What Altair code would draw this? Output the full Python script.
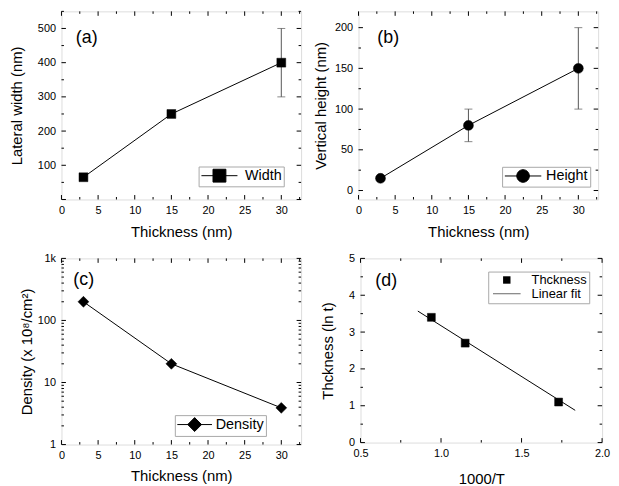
import altair as alt
import pandas as pd

FONT = "Liberation Sans"
TICK_FS = 11
TITLE_FS = 15
MAJOR_LEN = 4.5
MINOR_LEN = 2.5

# ---------------- data ----------------
thick = [3, 15, 30]

width_nm = [65, 250, 400]
width_err_x = [30]
width_err_lo = [300]
width_err_hi = [500]

height_nm = [15, 80, 150]
height_err_x = [15, 30]
height_err_lo = [60, 100]
height_err_hi = [100, 200]

density = [200, 20, 3.9]

inv_T = [0.94, 1.15, 1.73]
ln_t = [3.4, 2.7, 1.1]
fit_invT = [0.856, 1.833]
fit_lnt = [3.57, 0.875]

# tick positions / labels
thick_major = [0, 5, 10, 15, 20, 25, 30]
thick_minor = [2.5, 7.5, 12.5, 17.5, 22.5, 27.5, 32.5]
thick_labels = [0, 5, 10, 15, 20, 25, 30]

wid_major = [0, 100, 200, 300, 400, 500]
wid_minor = [50, 150, 250, 350, 450, 550]
wid_labels = [100, 200, 300, 400, 500]

hgt_major = [0, 50, 100, 150, 200]
hgt_minor = [25, 75, 125, 175]
hgt_labels = [0, 50, 100, 150, 200]

den_major = [1, 10, 100, 1000]
den_minor = [2, 3, 4, 5, 6, 7, 8, 9, 20, 30, 40, 50, 60, 70, 80, 90,
             200, 300, 400, 500, 600, 700, 800, 900]
den_labels = [1, 10, 100, 1000]

invT_major = [0.5, 1.0, 1.5, 2.0]
invT_minor = [0.75, 1.25, 1.75]
lnt_major = [0, 1, 2, 3, 4, 5]
lnt_minor = [0.5, 1.5, 2.5, 3.5, 4.5]


# ---------------- helpers ----------------
def x_axis(values, title, title_y, fmt=None):
    kw = dict(orient="bottom", values=values, ticks=False, tickSize=0, domain=False, grid=False,
              labelFont=FONT, labelFontSize=TICK_FS, labelColor="black", labelPadding=5,
              labelFlush=False, labelOverlap=False,
              title=title, titleFont=FONT, titleFontSize=TITLE_FS, titleFontWeight="normal",
              titleColor="black", titleY=title_y, titleBaseline="middle",
              minExtent=20, maxExtent=20)
    if fmt:
        kw["format"] = fmt
    return alt.Axis(**kw)


def y_axis(values, title, title_x, ext, fmt=None, expr=None):
    kw = dict(orient="left", values=values, ticks=False, tickSize=0, domain=False, grid=False,
              labelFont=FONT, labelFontSize=TICK_FS, labelColor="black", labelPadding=6,
              labelOverlap=False,
              title=title, titleFont=FONT, titleFontSize=TITLE_FS, titleFontWeight="normal",
              titleColor="black", titleX=-title_x, titleBaseline="middle",
              minExtent=ext, maxExtent=ext)
    if fmt:
        kw["format"] = fmt
    if expr:
        kw["labelExpr"] = expr
    return alt.Axis(**kw)


def legend(x, y, path, size, so, lo, fs):
    kw = dict(orient="none", legendX=x, legendY=y, title=None,
              symbolSize=size, symbolStrokeColor="black",
              symbolStrokeWidth=1, symbolOffset=so, labelOffset=lo,
              labelFont=FONT, labelFontSize=fs, labelColor="black",
              strokeColor="#a8a8a8", fillColor="white", padding=2, rowPadding=0)
    if path:
        kw["symbolType"] = path
    return alt.Legend(**kw)


def inward_ticks(xs, ys, w, h, xmaj, xmin, ymaj, ymin):
    """Origin-style ticks pointing into the frame on all four sides."""
    out = []
    for vals, L in ((xmaj, MAJOR_LEN), (xmin, MINOR_LEN)):
        base = alt.Chart(pd.DataFrame({"v": vals})).mark_rule(color="black", strokeWidth=1)
        xe = alt.X("v:Q", scale=xs, axis=None)
        out.append(base.encode(x=xe, y=alt.value(h), y2=alt.value(h - L)))
        out.append(base.encode(x=xe, y=alt.value(0), y2=alt.value(L)))
    for vals, L in ((ymaj, MAJOR_LEN), (ymin, MINOR_LEN)):
        base = alt.Chart(pd.DataFrame({"v": vals})).mark_rule(color="black", strokeWidth=1)
        ye = alt.Y("v:Q", scale=ys, axis=None)
        out.append(base.encode(y=ye, x=alt.value(0), x2=alt.value(L)))
        out.append(base.encode(y=ye, x=alt.value(w), x2=alt.value(w - L)))
    return out


def panel(w, h, xs, ys, line_df, xa, ya, xmaj, xmin, ymaj, ymin, extra):
    def X(ax):
        return alt.X("x:Q", scale=xs, axis=ax)

    def Y(ax):
        return alt.Y("y:Q", scale=ys, axis=ax)

    line = alt.Chart(line_df).mark_line(color="black", strokeWidth=1).encode(X(xa), Y(ya))
    layers = [line] + inward_ticks(xs, ys, w, h, xmaj, xmin, ymaj, ymin) + [e(X, Y) for e in extra]
    return alt.layer(*layers).resolve_axis(x="independent", y="independent").properties(
        width=w, height=h)


def errbars(df, ys):
    def f(X, Y):
        return alt.Chart(df).mark_errorbar(ticks={"size": 8}, color="#555555", thickness=1).encode(
            x=alt.X("x:Q", scale=xs_thick, axis=None),
            y=alt.Y("lo:Q", scale=ys, axis=None),
            y2="hi:Q")
    return f


def points(df, mark, size, leg, name):
    def f(X, Y):
        return alt.Chart(df).mark_point(shape=mark, filled=True, size=size, opacity=1,
                                        stroke="black", strokeWidth=0.5).encode(
            X(None), Y(None),
            color=alt.Color("series:N", scale=alt.Scale(domain=[name], range=["black"]),
                            legend=leg))
    return f


def label(txt, px, py):
    def f(X, Y):
        return alt.Chart(pd.DataFrame({"t": [txt]})).mark_text(
            font=FONT, fontSize=18, color="black", align="center", baseline="middle").encode(
            x=alt.value(px), y=alt.value(py), text="t:N")
    return f


xs_thick = alt.Scale(domain=[0, 32.7], nice=False, zero=False)

# ---------------- panel (a) ----------------
df_a = pd.DataFrame({"x": thick, "y": width_nm, "series": "Width"})
err_a = pd.DataFrame({"x": width_err_x, "lo": width_err_lo, "hi": width_err_hi})
ys_a = alt.Scale(domain=[0, 550], nice=False, zero=False)
pa = panel(242, 190, xs_thick, ys_a, df_a,
           x_axis(thick_labels, "Thickness (nm)", 32),
           y_axis(wid_labels, "Lateral width (nm)", 45.5, 53.5),
           thick_major, thick_minor, wid_major, wid_minor,
           [errbars(err_a, ys_a),
            points(df_a, "square", 80,
                   legend(138.5, 156.7, "M-2.8,0H2.8M-1,-1H1V1H-1Z", 169, 11.8, 18.5, 14.5),
                   "Width"),
            label("(a)", 25.5, 26.7)])

# ---------------- panel (b) ----------------
df_b = pd.DataFrame({"x": thick, "y": height_nm, "series": "Height"})
err_b = pd.DataFrame({"x": height_err_x, "lo": height_err_lo, "hi": height_err_hi})
ys_b = alt.Scale(domain=[-11, 220], nice=False, zero=False)
pb = panel(242, 190, xs_thick, ys_b, df_b,
           x_axis(thick_labels, "Thickness (nm)", 32),
           y_axis(hgt_labels, "Vertical height (nm)", 38, 46.5),
           thick_major, thick_minor, hgt_major, hgt_minor,
           [errbars(err_b, ys_b),
            points(df_b, "circle", 100,
                   legend(145, 157, "M-2.9,0H2.9M1,0A1,1,0,1,1,-1,0A1,1,0,1,1,1,0Z",
                          161, 11.95, 16, 14.5),
                   "Height"),
            label("(b)", 30, 26.7)])

# ---------------- panel (c) ----------------
df_c = pd.DataFrame({"x": thick, "y": density, "series": "Density"})
ys_c = alt.Scale(type="log", domain=[1, 1000], nice=False, zero=False)
pc = panel(242, 188, xs_thick, ys_c, df_c,
           x_axis(thick_labels, "Thickness (nm)", 31.7),
           y_axis(den_labels, "Density (x 10\u2078/cm\u00b2)", 35.5, 53.5,
                  expr="datum.value >= 1000 ? '1k' : format(datum.value, 'd')"),
           thick_major, thick_minor, den_major, den_minor,
           [points(df_c, "diamond", 121,
                   legend(114.5, 158.3, "M-2.5,0H2.5M0,-1L1,0L0,1L-1,0Z", 196, 10.5, 13.8, 14.5),
                   "Density"),
            label("(c)", 22.5, 21.5)])

# ---------------- panel (d) ----------------
df_d = pd.DataFrame({"x": inv_T, "y": ln_t, "series": "Thckness"})
fit_d = pd.DataFrame({"x": fit_invT, "y": fit_lnt})
xs_d = alt.Scale(domain=[0.5, 2.0], nice=False, zero=False)
ys_d = alt.Scale(domain=[0, 5], nice=False, zero=False)


def points_d(X, Y):
    return alt.Chart(df_d).mark_point(filled=True, size=64, opacity=1, color="black",
                                      stroke="black", strokeWidth=0.5).encode(
        X(None), Y(None),
        shape=alt.Shape("series:N",
                        scale=alt.Scale(domain=["Thckness", "Linear fit"],
                                        range=["square", "M-3.73,-0.08H3.73V0.08H-3.73Z"]),
                        legend=legend(129, 13.3, None, 56, 10.25, 18.5, 13)))


pd_ = panel(244, 186, xs_d, ys_d, fit_d,
            x_axis(invT_major, "1000/T", 36, fmt=".1f"),
            y_axis(lnt_major, "Thckness (ln t)", 33, 41.5, fmt="d"),
            invT_major, invT_minor, lnt_major, lnt_minor,
            [points_d, label("(d)", 26, 23)])

row1 = alt.hconcat(pa, pb, spacing=10).resolve_scale(color="independent", shape="independent")
row2 = alt.hconcat(pc, pd_, spacing=17).resolve_scale(color="independent", shape="independent")
chart = alt.vconcat(row1, row2, spacing=11.5).resolve_scale(
    color="independent", shape="independent").properties(padding=0).configure_view(
    stroke="black", strokeWidth=1.3).configure(font=FONT)

chart.save("out.html", embed_options={"renderer": "svg", "actions": False})
